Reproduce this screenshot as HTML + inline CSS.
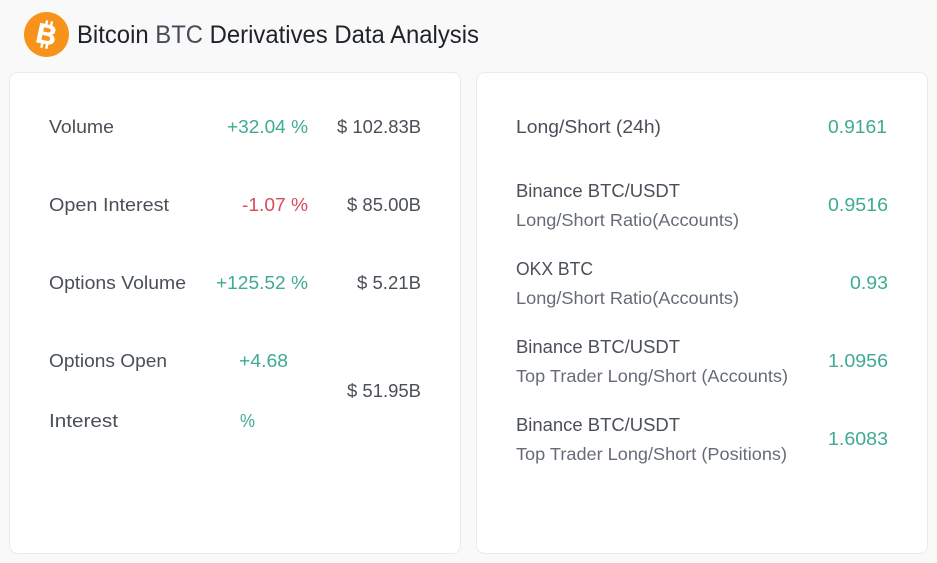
<!DOCTYPE html>
<html lang="en">
<head>
<meta charset="utf-8">
<title>Bitcoin BTC Derivatives Data Analysis</title>
<style>
html,body{margin:0;padding:0;background:#f9f9f9;width:937px;height:563px;overflow:hidden}
svg{display:block}
text{font-family:"Liberation Sans","DejaVu Sans",sans-serif;font-size:18px;fill:#4a4f58}
.title{font-size:25px;fill:#1e2329}
.sub{fill:#666c77;font-size:17.5px}
.up{fill:#3fab92}
.down{fill:#d94a5c}
</style>
</head>
<body>
<svg width="937" height="563" viewBox="0 0 937 563" xmlns="http://www.w3.org/2000/svg">
  <rect width="937" height="563" fill="#f9f9f9"/>

  <g>
    <circle cx="46.5" cy="34.5" r="22.5" fill="#f7931a"/>
    <g transform="rotate(12 46.5 34.5)">
      <text x="46.5" y="44" text-anchor="middle" style="font-size:28px;font-weight:bold;fill:#fff;stroke:#fff;stroke-width:.5">B</text>
      <rect x="43" y="20.5" width="2.4" height="5" fill="#fff"/>
      <rect x="48" y="20.5" width="2.4" height="5" fill="#fff"/>
      <rect x="43" y="43.5" width="2.4" height="5" fill="#fff"/>
      <rect x="48" y="43.5" width="2.4" height="5" fill="#fff"/>
    </g>
  </g>
  <text class="title" x="77" y="43" textLength="402" lengthAdjust="spacingAndGlyphs">Bitcoin <tspan fill="#474d57" style="fill:#474d57">BTC</tspan> Derivatives Data Analysis</text>

  <rect x="9.5" y="72.5" width="451" height="481" rx="8" fill="#fff" stroke="#e9ebee"/>
  <rect x="476.5" y="72.5" width="451" height="481" rx="8" fill="#fff" stroke="#e9ebee"/>

  <g>
    <text x="49" y="133" textLength="65" lengthAdjust="spacingAndGlyphs">Volume</text>
    <text class="up" x="227" y="133" textLength="81" lengthAdjust="spacingAndGlyphs">+32.04 %</text>
    <text x="337" y="133" textLength="84" lengthAdjust="spacingAndGlyphs">$ 102.83B</text>

    <text x="49" y="211" textLength="120" lengthAdjust="spacingAndGlyphs">Open Interest</text>
    <text class="down" x="242" y="211" textLength="66" lengthAdjust="spacingAndGlyphs">-1.07 %</text>
    <text x="347" y="211" textLength="74" lengthAdjust="spacingAndGlyphs">$ 85.00B</text>

    <text x="49" y="289" textLength="137" lengthAdjust="spacingAndGlyphs">Options Volume</text>
    <text class="up" x="216" y="289" textLength="92" lengthAdjust="spacingAndGlyphs">+125.52 %</text>
    <text x="357" y="289" textLength="64" lengthAdjust="spacingAndGlyphs">$ 5.21B</text>

    <text x="49" y="367" textLength="118" lengthAdjust="spacingAndGlyphs">Options Open</text>
    <text x="49" y="427" textLength="69" lengthAdjust="spacingAndGlyphs">Interest</text>
    <text class="up" x="239" y="367" textLength="49" lengthAdjust="spacingAndGlyphs">+4.68</text>
    <text class="up" x="240" y="427" textLength="15" lengthAdjust="spacingAndGlyphs">%</text>
    <text x="347" y="397" textLength="74" lengthAdjust="spacingAndGlyphs">$ 51.95B</text>
  </g>

  <g>
    <text x="516" y="133" textLength="145" lengthAdjust="spacingAndGlyphs">Long/Short (24h)</text>
    <text class="up" x="828" y="133" textLength="59" lengthAdjust="spacingAndGlyphs">0.9161</text>

    <text x="516" y="197" textLength="164" lengthAdjust="spacingAndGlyphs">Binance BTC/USDT</text>
    <text class="sub" x="516" y="226" textLength="223" lengthAdjust="spacingAndGlyphs">Long/Short Ratio(Accounts)</text>
    <text class="up" x="828" y="211" textLength="60" lengthAdjust="spacingAndGlyphs">0.9516</text>

    <text x="516" y="275" textLength="77" lengthAdjust="spacingAndGlyphs">OKX BTC</text>
    <text class="sub" x="516" y="304" textLength="223" lengthAdjust="spacingAndGlyphs">Long/Short Ratio(Accounts)</text>
    <text class="up" x="850" y="289" textLength="38" lengthAdjust="spacingAndGlyphs">0.93</text>

    <text x="516" y="353" textLength="164" lengthAdjust="spacingAndGlyphs">Binance BTC/USDT</text>
    <text class="sub" x="516" y="382" textLength="272" lengthAdjust="spacingAndGlyphs">Top Trader Long/Short (Accounts)</text>
    <text class="up" x="828" y="367" textLength="60" lengthAdjust="spacingAndGlyphs">1.0956</text>

    <text x="516" y="431" textLength="164" lengthAdjust="spacingAndGlyphs">Binance BTC/USDT</text>
    <text class="sub" x="516" y="460" textLength="271" lengthAdjust="spacingAndGlyphs">Top Trader Long/Short (Positions)</text>
    <text class="up" x="828" y="445" textLength="60" lengthAdjust="spacingAndGlyphs">1.6083</text>
  </g>
</svg>
</body>
</html>
